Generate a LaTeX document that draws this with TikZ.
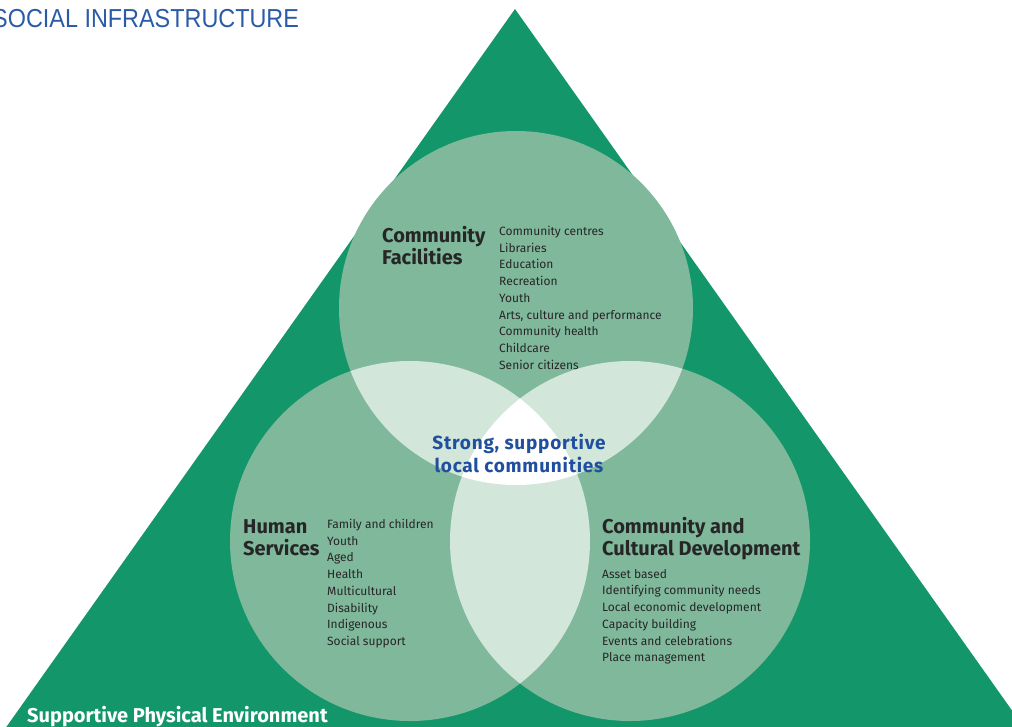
\documentclass[tikz,border=0pt]{standalone}
\usepackage{fontspec}
\setmainfont{Fira Sans}
\newfontfamily\titlefont{Liberation Sans}
\definecolor{trigreen}{HTML}{13976A}
\definecolor{circgreen}{HTML}{80B89C}
\definecolor{lensgreen}{HTML}{D2E6DA}
\definecolor{titleblue}{HTML}{2B5BA8}
\definecolor{coreblue}{HTML}{1F4F9E}
\tikzset{
  heading/.style={anchor=north west, inner sep=0pt, align=left, font=\bfseries\fontsize{20}{22}\selectfont, text={black!85}},
  itemlist/.style={anchor=north west, inner sep=0pt, align=left, font=\fontsize{12}{16.7}\selectfont, text={black!85}},
}
\begin{document}
\begin{tikzpicture}[x=1pt, y=-1pt]
        \useasboundingbox (0, 0) rectangle (1012, 726);
        \clip (0, 0) rectangle (1012, 726);
        
        \fill [trigreen] (515, 9) -- (1040, 750) -- (-10, 750) -- cycle;
        
        \fill [circgreen] (516, 308) circle (177);
        \fill [circgreen] (410, 541) circle (180);
        \fill [circgreen] (630, 541) circle (180);
        
        \begin{scope}
        \clip (516, 308) circle (177);
        \fill [lensgreen] (410, 541) circle (180);
        \fill [lensgreen] (630, 541) circle (180);
        \end{scope}
        \begin{scope}
        \clip (410, 541) circle (180);
        \fill [lensgreen] (630, 541) circle (180);
        \end{scope}
        \begin{scope}
        \clip (516, 308) circle (177);
        \clip (410, 541) circle (180);
        \fill [white] (630, 541) circle (180);
        \end{scope}
        
        \node [anchor=base west, inner sep=0pt, text=titleblue, font=\titlefont\fontsize{26}{26}\selectfont] (title) at (-8, 27) {\scalebox{0.9}[1]{SOCIAL INFRASTRUCTURE}};
        
        \node [heading] (facilities) at (382, 226) {Community\\Facilities};
        \node [itemlist] (facilitylist) at (499, 226) {Community centres\\Libraries\\Education\\Recreation\\Youth\\Arts, culture and performance\\Community health\\Childcare\\Senior citizens};
        
        \node [heading] (human) at (243, 519) {Human\\Services};
        \node [itemlist] (humanlist) at (327, 519) {Family and children\\Youth\\Aged\\Health\\Multicultural\\Disability\\Indigenous\\Social support};
        
        \node [heading] (cultural) at (602, 517) {Community and\\Cultural Development};
        \node [itemlist] (culturallist) at (602, 569) {Asset based\\Identifying community needs\\Local economic development\\Capacity building\\Events and celebrations\\Place management};
        
        \node [align=center, inner sep=0pt, text=coreblue, font=\bfseries\fontsize{19}{23}\selectfont\addfontfeature{LetterSpace=4}] (core) at (519, 453) {Strong, supportive\\local communities};
        
        \node [anchor=base west, inner sep=0pt, text=white, font=\bfseries\fontsize{20}{20}\selectfont] (environment) at (27, 722) {Supportive Physical Environment};
\end{tikzpicture}
\end{document}
